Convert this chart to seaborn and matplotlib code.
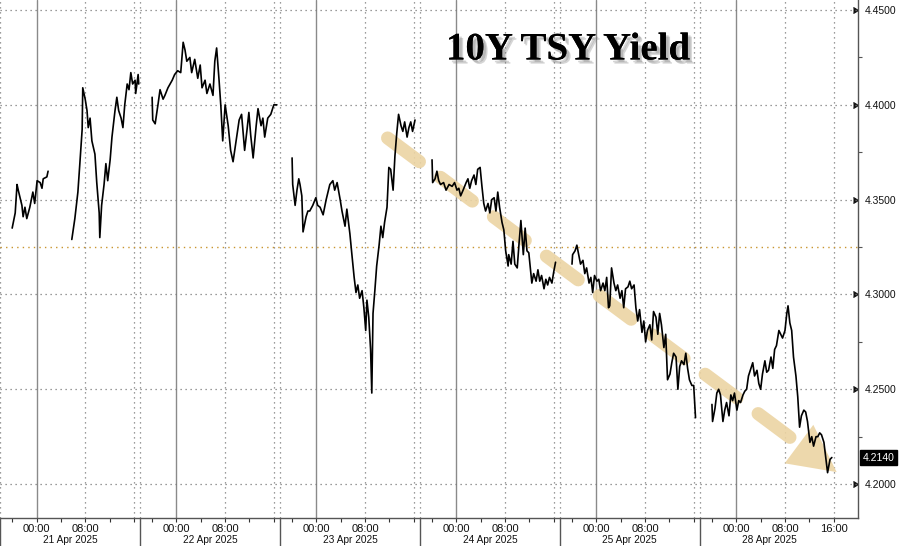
import matplotlib
matplotlib.use('Agg')
import matplotlib.pyplot as plt
import matplotlib.transforms as mtransforms
import matplotlib.patheffects as pe
from matplotlib.patches import Polygon
import numpy as np
import pandas as pd
import seaborn as sns

# each trading day runs 18:00 (prev. day) -> 17:00, off-hours are squeezed out
days = ['21 Apr 2025', '22 Apr 2025', '23 Apr 2025', '24 Apr 2025', '25 Apr 2025', '28 Apr 2025']
session_len = 23

# hours since session open / 10y yield
h_21a = [2.0, 2.5, 2.8, 3.0, 3.6, 3.8, 4.1, 4.4, 4.9, 5.4, 5.7, 6.1, 6.6, 6.9, 7.1, 7.7, 7.9]
y_21a = [4.335, 4.343, 4.358, 4.355, 4.347, 4.341, 4.346, 4.340, 4.346, 4.354, 4.348, 4.360,
         4.359, 4.356, 4.361, 4.362, 4.365]
h_21b = [11.8, 12.3, 12.8, 13.1, 13.5, 13.6, 14.0, 14.3, 14.5, 14.8, 15.1, 15.6, 15.9, 16.3, 16.4,
         16.7, 17.1, 17.4, 17.7, 18.1, 18.4, 18.9, 19.2, 19.5, 19.9, 20.2, 20.5, 20.9, 21.2, 21.5,
         21.8, 22.2, 22.3, 22.7, 22.8]
y_21b = [4.329, 4.340, 4.354, 4.368, 4.387, 4.409, 4.403, 4.397, 4.388, 4.393, 4.381, 4.374, 4.359,
         4.343, 4.330, 4.347, 4.358, 4.369, 4.360, 4.371, 4.383, 4.397, 4.404, 4.397, 4.393, 4.388,
         4.400, 4.411, 4.408, 4.417, 4.411, 4.413, 4.406, 4.416, 4.411]
h_22 = [2.0, 2.1, 2.5, 3.0, 3.3, 3.8, 4.1, 4.6, 5.3, 5.7, 6.2, 6.7, 7.1, 7.4, 7.7, 8.2, 8.5, 9.0,
        9.5, 9.9, 10.2, 10.7, 11.0, 11.5, 12.0, 12.3, 12.6, 13.0, 13.3, 13.6, 14.0, 14.5, 14.9,
        15.3, 15.8, 16.3, 16.7, 17.2, 17.6, 17.9, 18.2, 18.6, 19.1, 19.4, 19.9, 20.2, 20.5, 21.0,
        21.5, 22.0, 22.5]
y_22 = [4.404, 4.392, 4.390, 4.401, 4.408, 4.403, 4.405, 4.409, 4.413, 4.416, 4.418, 4.417, 4.433,
        4.429, 4.423, 4.425, 4.417, 4.424, 4.414, 4.421, 4.409, 4.413, 4.406, 4.411, 4.405, 4.423,
        4.430, 4.413, 4.399, 4.381, 4.400, 4.389, 4.376, 4.370, 4.381, 4.392, 4.395, 4.376, 4.387,
        4.396, 4.384, 4.372, 4.389, 4.398, 4.389, 4.393, 4.383, 4.393, 4.395, 4.400, 4.400]
h_23 = [2.0, 2.1, 2.5, 2.8, 3.1, 3.3, 3.6, 3.8, 4.3, 4.6, 4.9, 5.4, 5.9, 6.2, 6.6, 7.1, 7.6, 8.2,
        8.7, 9.0, 9.4, 9.9, 10.2, 10.7, 11.0, 11.5, 11.8, 12.2, 12.5, 12.8, 13.1, 13.5, 13.8, 14.1,
        14.3, 14.6, 14.9, 15.1, 15.3, 15.6, 15.9, 16.3, 16.6, 16.9, 17.2, 17.6, 17.9, 18.2, 18.6,
        18.9, 19.2, 19.5, 19.9, 20.2, 20.5, 20.9, 21.2, 21.5, 21.8, 22.2]
y_23 = [4.372, 4.358, 4.347, 4.355, 4.361, 4.358, 4.352, 4.333, 4.341, 4.344, 4.344, 4.347, 4.351,
        4.347, 4.346, 4.342, 4.350, 4.358, 4.360, 4.355, 4.359, 4.350, 4.344, 4.336, 4.345, 4.332,
        4.322, 4.309, 4.301, 4.305, 4.298, 4.302, 4.293, 4.281, 4.297, 4.288, 4.271, 4.248, 4.290,
        4.302, 4.315, 4.326, 4.336, 4.330, 4.338, 4.346, 4.367, 4.366, 4.355, 4.373, 4.385, 4.395,
        4.389, 4.386, 4.391, 4.383, 4.388, 4.391, 4.386, 4.392]
h_24 = [2.0, 2.1, 2.5, 2.8, 3.1, 3.4, 3.9, 4.3, 4.8, 5.3, 5.7, 6.1, 6.4, 6.7, 7.1, 7.6, 7.9, 8.2,
        8.5, 8.9, 9.2, 9.5, 9.9, 10.2, 10.5, 10.8, 11.2, 11.5, 11.8, 12.2, 12.5, 12.8, 13.1, 13.5,
        13.8, 14.1, 14.5, 14.6, 15.0, 15.3, 15.6, 16.0, 16.3, 16.6, 17.0, 17.3, 17.6, 17.9, 18.4,
        18.7, 19.1, 19.4, 19.7, 20.0, 20.4, 20.7, 21.0, 21.3, 21.7, 22.0, 22.3]
y_24 = [4.371, 4.359, 4.361, 4.365, 4.360, 4.358, 4.359, 4.355, 4.358, 4.357, 4.359, 4.355, 4.356,
        4.352, 4.355, 4.359, 4.361, 4.356, 4.360, 4.363, 4.358, 4.366, 4.367, 4.357, 4.348, 4.344,
        4.348, 4.343, 4.350, 4.351, 4.344, 4.354, 4.346, 4.338, 4.334, 4.323, 4.315, 4.321, 4.316,
        4.328, 4.316, 4.314, 4.327, 4.339, 4.321, 4.335, 4.323, 4.322, 4.306, 4.311, 4.307, 4.313,
        4.307, 4.310, 4.303, 4.308, 4.305, 4.309, 4.306, 4.312, 4.317]
h_25 = [2.0, 2.1, 2.5, 2.8, 3.1, 3.4, 3.8, 4.1, 4.4, 4.8, 5.1, 5.4, 5.7, 6.1, 6.4, 6.7, 7.1, 7.4,
        7.7, 8.0, 8.2, 8.5, 8.9, 9.2, 9.5, 9.9, 10.2, 10.5, 10.8, 11.2, 11.5, 11.8, 12.2, 12.5, 12.8,
        13.1, 13.5, 13.8, 14.1, 14.4, 14.8, 15.1, 15.4, 15.8, 16.1, 16.4, 16.7, 17.1, 17.4, 17.7,
        18.1, 18.4, 18.7, 19.1, 19.4, 19.7, 20.0, 20.4, 20.7, 21.0, 21.3, 21.7, 22.0, 22.3]
y_25 = [4.316, 4.321, 4.323, 4.326, 4.321, 4.316, 4.318, 4.311, 4.314, 4.306, 4.309, 4.301, 4.310,
        4.307, 4.308, 4.302, 4.306, 4.302, 4.309, 4.293, 4.294, 4.314, 4.306, 4.302, 4.305, 4.298,
        4.302, 4.293, 4.303, 4.304, 4.307, 4.303, 4.305, 4.293, 4.286, 4.292, 4.280, 4.286, 4.275,
        4.281, 4.284, 4.276, 4.291, 4.288, 4.279, 4.290, 4.284, 4.272, 4.279, 4.255, 4.258, 4.264,
        4.269, 4.267, 4.250, 4.262, 4.265, 4.263, 4.269, 4.261, 4.255, 4.252, 4.252, 4.235]
h_28 = [2.0, 2.1, 2.5, 2.8, 3.1, 3.4, 3.8, 4.1, 4.4, 4.8, 5.1, 5.4, 5.7, 6.1, 6.4, 6.7, 7.1, 7.4,
        7.7, 8.0, 8.4, 8.7, 9.0, 9.4, 9.7, 10.0, 10.3, 10.7, 11.0, 11.3, 11.7, 12.0, 12.3, 12.6,
        13.0, 13.3, 13.6, 14.0, 14.3, 14.5, 14.8, 15.1, 15.4, 15.8, 16.1, 16.4, 16.7, 17.1, 17.4,
        17.7, 18.1, 18.4, 18.7, 19.1, 19.4, 19.7, 20.0, 20.4, 20.7, 21.0, 21.4, 21.7]
y_28 = [4.242, 4.233, 4.240, 4.248, 4.250, 4.247, 4.233, 4.239, 4.243, 4.236, 4.247, 4.244, 4.248,
        4.239, 4.244, 4.243, 4.247, 4.249, 4.250, 4.257, 4.261, 4.264, 4.257, 4.260, 4.253, 4.250,
        4.258, 4.265, 4.259, 4.260, 4.267, 4.261, 4.271, 4.273, 4.281, 4.279, 4.277, 4.281, 4.290,
        4.294, 4.285, 4.281, 4.267, 4.257, 4.246, 4.230, 4.236, 4.239, 4.238, 4.233, 4.222, 4.225,
        4.220, 4.225, 4.225, 4.227, 4.226, 4.222, 4.214, 4.206, 4.213, 4.214]

ref_level = 4.325
y_ticks = [4.20, 4.25, 4.30, 4.35, 4.40, 4.45]
arrow_start = (63.7, 4.3825)
arrow_tip = (137.5, 4.2063)

pieces = [(0, h_21a, y_21a), (0, h_21b, y_21b), (1, h_22, y_22), (2, h_23, y_23),
          (3, h_24, y_24), (4, h_25, y_25), (5, h_28, y_28)]
rows = []
for k, (d, hh, yy) in enumerate(pieces):
    for h, v in zip(hh, yy):
        rows.append({'x': d * session_len + h, 'yield': v, 'piece': k})
df = pd.DataFrame(rows)

sns.set_style('white')
plt.rcParams['font.family'] = ['Liberation Sans', 'DejaVu Sans']

fig = plt.figure(figsize=(9, 5.46), dpi=100)
ax = fig.add_axes([0, 28 / 546, 858 / 900, 518 / 546])
ax.set_xlim(0, 141)
ax.set_ylim(4.1821, 4.4553)

grid_c = '#7a7a7a'
dot = (0, (1, 3))
for d in range(len(days)):
    base = d * session_len
    ax.axvline(base + 6, color='#8a8a8a', lw=1, zorder=1)
    ax.axvline(base + 14, color=grid_c, lw=0.9, ls=dot, zorder=1)
    ax.axvline(base + 22, color=grid_c, lw=0.9, ls=dot, zorder=1)
    ax.axvline(base, color=grid_c, lw=0.9, ls=dot, zorder=1)
for v in y_ticks:
    ax.axhline(v, color=grid_c, lw=0.9, ls=dot, zorder=1)
ax.axhline(ref_level, color='#c9952e', lw=1.0, ls=dot, zorder=1)

# trend arrow (dashed shaft + head), built in pixel space
p0 = ax.transData.transform(arrow_start)
p1 = ax.transData.transform(arrow_tip)
u = (p1 - p0) / np.hypot(*(p1 - p0))
n = np.array([-u[1], u[0]])
pb = p1 - 47 * u
inv = ax.transData.inverted()
shaft = inv.transform(np.array([p0, pb]))
tan = '#ecd4a3'
ax.plot(shaft[:, 0], shaft[:, 1], color=tan, lw=9.5, dashes=(3.0, 2.0),
        dash_capstyle='round', alpha=0.9, zorder=2)
head = inv.transform(np.array([p1, pb + 24 * n, pb - 24 * n]))
ax.add_patch(Polygon(head, closed=True, facecolor=tan, edgecolor='none', alpha=0.9, zorder=2))

sns.lineplot(data=df, x='x', y='yield', units='piece', estimator=None, sort=False,
             color='black', linewidth=1.2, ax=ax, legend=False, zorder=3)
ax.set_xlabel('')
ax.set_ylabel('')

# x ticks
major = []
labels = []
minor = []
for d in range(len(days)):
    base = d * session_len
    major += [base + 6, base + 14]
    labels += ['00:00', '08:00']
    minor += [base + o for o in (2, 10, 18, 22)]
major.append((len(days) - 1) * session_len + 22)
labels.append('16:00')
ax.set_xticks(major)
ax.set_xticklabels(labels)
ax.set_xticks(minor, minor=True)
ax.tick_params(axis='x', which='both', direction='out', length=3, width=0.8, color='#333333',
               labelsize=8, pad=1, labelcolor='#111111', bottom=True)

# y ticks on the right
ax.yaxis.tick_right()
ax.set_yticks(y_ticks)
ax.set_yticklabels(['%.4f' % v for v in y_ticks])
ax.set_yticks([4.225, 4.275, 4.325, 4.375, 4.425], minor=True)
ax.tick_params(axis='y', which='major', length=4, width=0.8, color='#111111',
               labelsize=7.5, pad=1.2, labelcolor='#111111', right=True)
ax.tick_params(axis='y', which='minor', length=3, width=0.8, color='#555555', right=True)
for t in ax.yaxis.get_major_ticks():
    t.tick2line.set_marker(5)
    t.tick2line.set_markersize(5)

for s in ['top', 'left']:
    ax.spines[s].set_visible(False)
for s in ['right', 'bottom']:
    ax.spines[s].set_color('#555555')
    ax.spines[s].set_linewidth(1)

# day labels and separators under the axis
trans = mtransforms.blended_transform_factory(ax.transData, ax.transAxes)
for d, name in enumerate(days):
    ax.text(d * session_len + session_len / 2, -0.0425, name, transform=trans,
            ha='center', va='center', fontsize=7.3, color='#111111')
    ax.plot([d * session_len, d * session_len], [0, -0.07], transform=trans,
            color='#555555', lw=1, clip_on=False)

# last value tag
trans_y = mtransforms.blended_transform_factory(ax.transAxes, ax.transData)
ax.text(1.005, y_28[-1], '%.4f' % y_28[-1], transform=trans_y, ha='left', va='center',
        fontsize=7.5, color='white',
        bbox=dict(boxstyle='square,pad=0.25', facecolor='black', edgecolor='black'))

ax.text(0.662, 0.9035, '10Y TSY Yield', transform=ax.transAxes, ha='center', va='center',
        fontsize=28, fontweight='bold', family='Liberation Serif', color='black', zorder=5,
        path_effects=[pe.withSimplePatchShadow(offset=(3, -3), shadow_rgbFace='#777777', alpha=0.3),
                      pe.withSimplePatchShadow(offset=(2, -2), shadow_rgbFace='#777777', alpha=0.3)])

fig.savefig('out.png', dpi=100)
